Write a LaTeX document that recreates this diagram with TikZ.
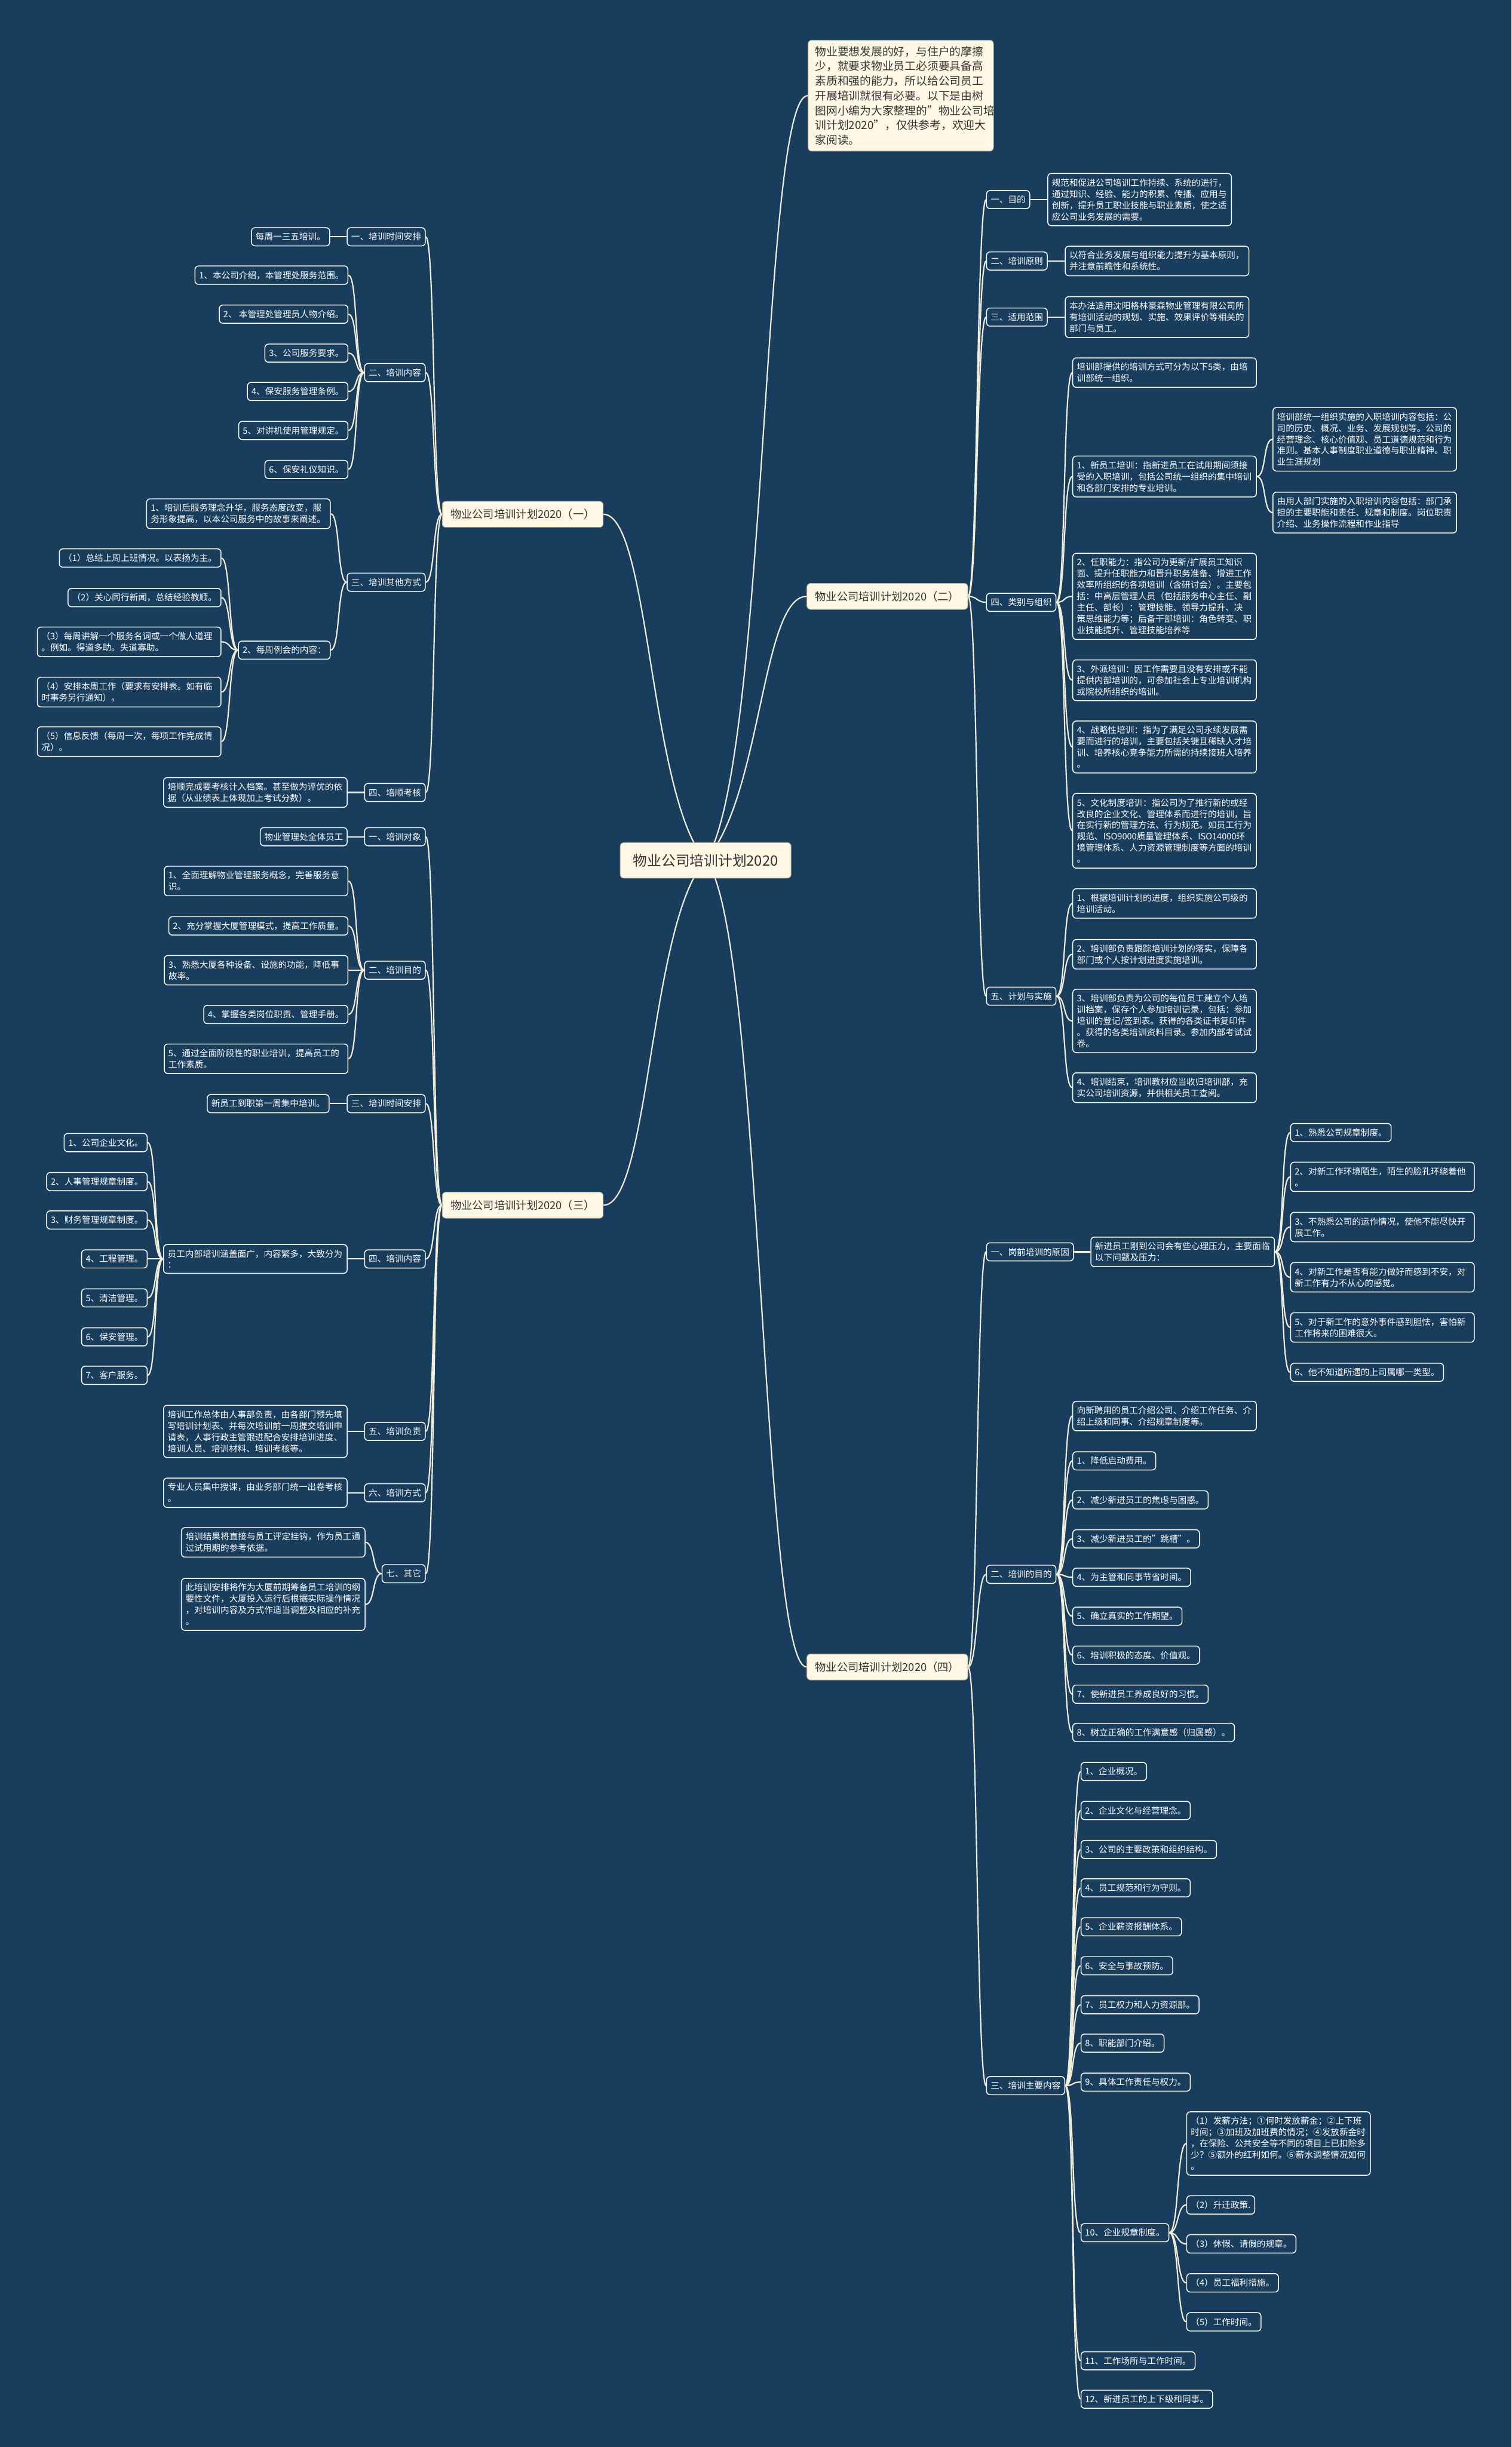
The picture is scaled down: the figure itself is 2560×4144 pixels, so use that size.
\documentclass[tikz,border=0pt]{standalone}
\usepackage{fontspec}
\setmainfont{Noto Sans CJK SC}
\usetikzlibrary{positioning,backgrounds}
\definecolor{bgblue}{HTML}{183D5D}
\definecolor{cream}{HTML}{FDF7E3}
\definecolor{inkgray}{HTML}{333333}
\definecolor{linkc}{HTML}{F2EEDC}
\tikzset{
    topic/.style={draw=white, line width=1.5pt, rounded corners=6pt, fill=bgblue, text=white,
        font=\fontsize{14.8}{19.2}\selectfont, inner xsep=7pt, inner ysep=8.5pt, align=left},
    note/.style={topic, text width=297pt},
    mainbox/.style={draw=cream!70!black, line width=1pt, rounded corners=6pt, fill=cream, text=inkgray,
        font=\fontsize{18.5}{23}\selectfont, inner xsep=14pt, minimum height=44pt},
    rootbox/.style={mainbox, font=\fontsize{24}{30}\selectfont, inner xsep=22pt, minimum height=60pt},
    introbox/.style={mainbox, font=\fontsize{19}{25}\selectfont, text width=290pt, align=left,
        inner xsep=12pt, inner ysep=10pt},
    link/.style={draw=linkc, line width=2.2pt}
}

\begin{document}
\begin{tikzpicture}[x=1pt, y=-1pt]
    \useasboundingbox (0,0) rectangle (2560,4144);

    % centre and intro
    \node[rootbox] (root) at (1195,1457) {物业公司培训计划2020};
    \node[introbox, anchor=west] (intro) at (1368,162) {物业要想发展的好，与住户的摩擦\\少，就要求物业员工必须要具备高\\素质和强的能力，所以给公司员工\\开展培训就很有必要。以下是由树\\图网小编为大家整理的"物业公司培\\训计划2020"，仅供参考，欢迎大\\家阅读。};

    % main branches
    \node[mainbox, anchor=east] (p1) at (1022,871) {物业公司培训计划2020（一）};
    \node[mainbox, anchor=west] (p2) at (1366,1010) {物业公司培训计划2020（二）};
    \node[mainbox, anchor=east] (p3) at (1022,2041) {物业公司培训计划2020（三）};
    \node[mainbox, anchor=west] (p4) at (1366,2823) {物业公司培训计划2020（四）};

    % plan (二)
    \node[topic, anchor=west] (p2a) at (1670,338) {一、目的};
    \node[note, right=29pt of p2a] (p2a1) {规范和促进公司培训工作持续、系统的进行，\\通过知识、经验、能力的积累、传播、应用与\\创新，提升员工职业技能与职业素质，使之适\\应公司业务发展的需要。};
    \node[topic, anchor=west] (p2b) at (1670,442) {二、培训原则};
    \node[note, right=29pt of p2b] (p2b1) {以符合业务发展与组织能力提升为基本原则，\\并注意前瞻性和系统性。};
    \node[topic, anchor=west] (p2c) at (1670,537) {三、适用范围};
    \node[note, right=29pt of p2c] (p2c1) {本办法适用沈阳格林豪森物业管理有限公司所\\有培训活动的规划、实施、效果评价等相关的\\部门与员工。};
    \node[topic, anchor=west] (p2d) at (1670,1020) {四、类别与组织};
    \node[note, anchor=west] (p2d1) at (1816,631) {培训部提供的培训方式可分为以下5类，由培\\训部统一组织。};
    \node[note, anchor=west] (p2d2) at (1816,807) {1、新员工培训：指新进员工在试用期间须接\\受的入职培训，包括公司统一组织的集中培训\\和各部门安排的专业培训。};
    \node[note, anchor=west] (p2d2a) at (2155,744) {培训部统一组织实施的入职培训内容包括：公\\司的历史、概况、业务、发展规划等。公司的\\经营理念、核心价值观、员工道德规范和行为\\准则。基本人事制度职业道德与职业精神。职\\业生涯规划};
    \node[note, anchor=west] (p2d2b) at (2155,868) {由用人部门实施的入职培训内容包括：部门承\\担的主要职能和责任、规章和制度。岗位职责\\介绍、业务操作流程和作业指导};
    \node[note, anchor=west] (p2d3) at (1816,1010) {2、任职能力：指公司为更新/扩展员工知识\\面、提升任职能力和晋升职务准备、增进工作\\效率所组织的各项培训（含研讨会）。主要包\\括：中高层管理人员（包括服务中心主任、副\\主任、部长）：管理技能、领导力提升、决\\策思维能力等；后备干部培训：角色转变、职\\业技能提升、管理技能培养等};
    \node[note, anchor=west] (p2d4) at (1816,1152) {3、外派培训：因工作需要且没有安排或不能\\提供内部培训的，可参加社会上专业培训机构\\或院校所组织的培训。};
    \node[note, anchor=west] (p2d5) at (1816,1265) {4、战略性培训：指为了满足公司永续发展需\\要而进行的培训，主要包括关键且稀缺人才培\\训、培养核心竞争能力所需的持续接班人培养\\。};
    \node[note, anchor=west] (p2d6) at (1816,1407) {5、文化制度培训：指公司为了推行新的或经\\改良的企业文化、管理体系而进行的培训，旨\\在实行新的管理方法、行为规范。如员工行为\\规范、ISO9000质量管理体系、ISO14000环\\境管理体系、人力资源管理制度等方面的培训\\。};
    \node[topic, anchor=west] (p2e) at (1670,1687) {五、计划与实施};
    \node[note, anchor=west] (p2e1) at (1816,1530) {1、根据培训计划的进度，组织实施公司级的\\培训活动。};
    \node[note, anchor=west] (p2e2) at (1816,1616) {2、培训部负责跟踪培训计划的落实，保障各\\部门或个人按计划进度实施培训。};
    \node[note, anchor=west] (p2e3) at (1816,1729) {3、培训部负责为公司的每位员工建立个人培\\训档案，保存个人参加培训记录，包括：参加\\培训的登记/签到表。获得的各类证书复印件\\。获得的各类培训资料目录。参加内部考试试\\卷。};
    \node[note, anchor=west] (p2e4) at (1816,1842) {4、培训结束，培训教材应当收归培训部，充\\实公司培训资源，并供相关员工查阅。};

    % plan (四)
    \node[topic, anchor=west] (p4a) at (1670,2120) {一、岗前培训的原因};
    \node[note, right=28pt of p4a] (p4a0) {新进员工刚到公司会有些心理压力，主要面临\\以下问题及压力：};
    \node[topic, anchor=west] (p4a1) at (2185,1918) {1、熟悉公司规章制度。};
    \node[note, anchor=west] (p4a2) at (2185,1993) {2、对新工作环境陌生，陌生的脸孔环绕着他\\。};
    \node[note, anchor=west] (p4a3) at (2185,2078) {3、不熟悉公司的运作情况，使他不能尽快开\\展工作。};
    \node[note, anchor=west] (p4a4) at (2185,2163) {4、对新工作是否有能力做好而感到不安，对\\新工作有力不从心的感觉。};
    \node[note, anchor=west] (p4a5) at (2185,2248) {5、对于新工作的意外事件感到胆怯，害怕新\\工作将来的困难很大。};
    \node[topic, anchor=west] (p4a6) at (2185,2324) {6、他不知道所遇的上司属哪一类型。};
    \node[topic, anchor=west] (p4b) at (1670,2666) {二、培训的目的};
    \node[note, anchor=west] (p4b0) at (1816,2398) {向新聘用的员工介绍公司、介绍工作任务、介\\绍上级和同事、介绍规章制度等。};
    \node[topic, anchor=west] (p4b1) at (1816,2474) {1、降低启动费用。};
    \node[topic, anchor=west] (p4b2) at (1816,2540) {2、减少新进员工的焦虑与困惑。};
    \node[topic, anchor=west] (p4b3) at (1816,2606) {3、减少新进员工的"跳槽"。};
    \node[topic, anchor=west] (p4b4) at (1816,2671) {4、为主管和同事节省时间。};
    \node[topic, anchor=west] (p4b5) at (1816,2737) {5、确立真实的工作期望。};
    \node[topic, anchor=west] (p4b6) at (1816,2803) {6、培训积极的态度、价值观。};
    \node[topic, anchor=west] (p4b7) at (1816,2869) {7、使新进员工养成良好的习惯。};
    \node[topic, anchor=west] (p4b8) at (1816,2934) {8、树立正确的工作满意感（归属感）。};
    \node[topic, anchor=west] (p4c) at (1670,3532) {三、培训主要内容};
    \node[topic, anchor=west] (p4c1) at (1830,3000) {1、企业概况。};
    \node[topic, anchor=west] (p4c2) at (1830,3066) {2、企业文化与经营理念。};
    \node[topic, anchor=west] (p4c3) at (1830,3132) {3、公司的主要政策和组织结构。};
    \node[topic, anchor=west] (p4c4) at (1830,3197) {4、员工规范和行为守则。};
    \node[topic, anchor=west] (p4c5) at (1830,3263) {5、企业薪资报酬体系。};
    \node[topic, anchor=west] (p4c6) at (1830,3329) {6、安全与事故预防。};
    \node[topic, anchor=west] (p4c7) at (1830,3395) {7、员工权力和人力资源部。};
    \node[topic, anchor=west] (p4c8) at (1830,3460) {8、职能部门介绍。};
    \node[topic, anchor=west] (p4c9) at (1830,3526) {9、具体工作责任与权力。};
    \node[topic, anchor=west] (p4c10) at (1830,3781) {10、企业规章制度。};
    \node[topic, anchor=west] (p4c11) at (1830,3998) {11、工作场所与工作时间。};
    \node[topic, anchor=west] (p4c12) at (1830,4063) {12、新进员工的上下级和同事。};
    \node[note, anchor=west] (q1) at (2009,3630) {（1）发薪方法；①何时发放薪金；②上下班\\时间；③加班及加班费的情况；④发放薪金时\\，在保险、公共安全等不同的项目上已扣除多\\少？⑤额外的红利如何。⑥薪水调整情况如何\\。};
    \node[topic, anchor=west] (q2) at (2009,3734) {（2）升迁政策.};
    \node[topic, anchor=west] (q3) at (2009,3800) {（3）休假、请假的规章。};
    \node[topic, anchor=west] (q4) at (2009,3866) {（4）员工福利措施。};
    \node[topic, anchor=west] (q5) at (2009,3932) {（5）工作时间。};

    % plan (一)
    \node[topic, anchor=east] (p1a) at (721,401) {一、培训时间安排};
    \node[topic, left=28pt of p1a] (p1a1) {每周一三五培训。};
    \node[topic, anchor=east] (p1b) at (721,631) {二、培训内容};
    \node[topic, anchor=east] (p1b1) at (590,466) {1、本公司介绍，本管理处服务范围。};
    \node[topic, anchor=east] (p1b2) at (590,532) {2、 本管理处管理员人物介绍。};
    \node[topic, anchor=east] (p1b3) at (590,598) {3、公司服务要求。};
    \node[topic, anchor=east] (p1b4) at (590,663) {4、保安服务管理条例。};
    \node[topic, anchor=east] (p1b5) at (590,729) {5、对讲机使用管理规定。};
    \node[topic, anchor=east] (p1b6) at (590,795) {6、保安礼仪知识。};
    \node[topic, anchor=east] (p1c) at (721,986) {三、培训其他方式};
    \node[note, anchor=east] (p1c1) at (560,870) {1、培训后服务理念升华，服务态度改变，服\\务形象提高，以本公司服务中的故事来阐述。};
    \node[topic, anchor=east] (p1c2) at (560,1101) {2、每周例会的内容：};
    \node[topic, anchor=east] (p1c2a) at (375,945) {（1）总结上周上班情况。以表扬为主。};
    \node[topic, anchor=east] (p1c2b) at (375,1012) {（2）关心同行新闻，总结经验教顺。};
    \node[note, anchor=east] (p1c2c) at (375,1087) {（3）每周讲解一个服务名词或一个做人道理\\。例如。得道多助。失道寡助。};
    \node[note, anchor=east] (p1c2d) at (375,1172) {（4）安排本周工作（要求有安排表。如有临\\时事务另行通知）。};
    \node[note, anchor=east] (p1c2e) at (375,1256) {（5）信息反馈（每周一次，每项工作完成情\\况）。};
    \node[topic, anchor=east] (p1d) at (721,1342) {四、培顺考核};
    \node[note, left=28pt of p1d] (p1d1) {培顺完成要考核计入档案。甚至做为评优的依\\据（从业绩表上体现加上考试分数）。};

    % plan (三)
    \node[topic, anchor=east] (p3a) at (721,1417) {一、培训对象};
    \node[topic, left=28pt of p3a] (p3a1) {物业管理处全体员工};
    \node[topic, anchor=east] (p3b) at (721,1643) {二、培训目的};
    \node[note, anchor=east] (p3b1) at (590,1492) {1、全面理解物业管理服务概念，完善服务意\\识。};
    \node[topic, anchor=east] (p3b2) at (590,1568) {2、充分掌握大厦管理模式，提高工作质量。};
    \node[note, anchor=east] (p3b3) at (590,1643) {3、熟悉大厦各种设备、设施的功能，降低事\\故率。};
    \node[topic, anchor=east] (p3b4) at (590,1718) {4、掌握各类岗位职责、管理手册。};
    \node[note, anchor=east] (p3b5) at (590,1793) {5、通过全面阶段性的职业培训，提高员工的\\工作素质。};
    \node[topic, anchor=east] (p3c) at (721,1869) {三、培训时间安排};
    \node[topic, left=29pt of p3c] (p3c1) {新员工到职第一周集中培训。};
    \node[topic, anchor=east] (p3d) at (721,2132) {四、培训内容};
    \node[note, left=28pt of p3d] (p3d0) {员工内部培训涵盖面广，内容繁多，大致分为\\：};
    \node[topic, anchor=east] (p3d1) at (250,1935) {1、公司企业文化。};
    \node[topic, anchor=east] (p3d2) at (250,2001) {2、人事管理规章制度。};
    \node[topic, anchor=east] (p3d3) at (250,2066) {3、财务管理规章制度。};
    \node[topic, anchor=east] (p3d4) at (250,2132) {4、工程管理。};
    \node[topic, anchor=east] (p3d5) at (250,2198) {5、清洁管理。};
    \node[topic, anchor=east] (p3d6) at (250,2264) {6、保安管理。};
    \node[topic, anchor=east] (p3d7) at (250,2329) {7、客户服务。};
    \node[topic, anchor=east] (p3e) at (721,2424) {五、培训负责};
    \node[note, left=28pt of p3e] (p3e1) {培训工作总体由人事部负责，由各部门预先填\\写培训计划表、并每次培训前一周提交培训申\\请表，人事行政主管跟进配合安排培训进度、\\培训人员、培训材料、培训考核等。};
    \node[topic, anchor=east] (p3f) at (721,2528) {六、培训方式};
    \node[note, left=28pt of p3f] (p3f1) {专业人员集中授课，由业务部门统一出卷考核\\。};
    \node[topic, anchor=east] (p3g) at (721,2665) {七、其它};
    \node[note, anchor=east] (p3g1) at (619,2612) {培训结果将直接与员工评定挂钩，作为员工通\\过试用期的参考依据。};
    \node[note, anchor=east] (p3g2) at (619,2717) {此培训安排将作为大厦前期筹备员工培训的纲\\要性文件，大厦投入运行后根据实际操作情况\\，对培训内容及方式作适当调整及相应的补充\\。};

    \begin{scope}[on background layer]
        \fill[bgblue] (0,0) rectangle (2560,4144);
        % from the centre
        \draw[link] (root.center) .. controls (1300,1300) and (1290,162) .. (intro.west);
        \draw[link] (root.center) .. controls (1290,1350) and (1290,1010) .. (p2.west);
        \draw[link] (root.center) .. controls (1290,1560) and (1290,2823) .. (p4.west);
        \draw[link] (root.center) .. controls (1100,1350) and (1100,871) .. (p1.east);
        \draw[link] (root.center) .. controls (1100,1560) and (1100,2041) .. (p3.east);
        % right hand side
        \foreach \a/\b in {p2/p2a, p2/p2b, p2/p2c, p2/p2d, p2/p2e, p2a/p2a1, p2b/p2b1, p2c/p2c1,
                p2d/p2d1, p2d/p2d2, p2d/p2d3, p2d/p2d4, p2d/p2d5, p2d/p2d6, p2d2/p2d2a, p2d2/p2d2b,
                p2e/p2e1, p2e/p2e2, p2e/p2e3, p2e/p2e4,
                p4/p4a, p4/p4b, p4/p4c, p4a/p4a0, p4a0/p4a1, p4a0/p4a2, p4a0/p4a3, p4a0/p4a4, p4a0/p4a5, p4a0/p4a6,
                p4b/p4b0, p4b/p4b1, p4b/p4b2, p4b/p4b3, p4b/p4b4, p4b/p4b5, p4b/p4b6, p4b/p4b7, p4b/p4b8,
                p4c/p4c1, p4c/p4c2, p4c/p4c3, p4c/p4c4, p4c/p4c5, p4c/p4c6, p4c/p4c7, p4c/p4c8, p4c/p4c9,
                p4c/p4c10, p4c/p4c11, p4c/p4c12, p4c10/q1, p4c10/q2, p4c10/q3, p4c10/q4, p4c10/q5}
            \draw[link] (\a.east) .. controls +(16,0) and +(-16,0) .. (\b.west);
        % left hand side
        \foreach \a/\b in {p1/p1a, p1/p1b, p1/p1c, p1/p1d, p1a/p1a1,
                p1b/p1b1, p1b/p1b2, p1b/p1b3, p1b/p1b4, p1b/p1b5, p1b/p1b6,
                p1c/p1c1, p1c/p1c2, p1c2/p1c2a, p1c2/p1c2b, p1c2/p1c2c, p1c2/p1c2d, p1c2/p1c2e, p1d/p1d1,
                p3/p3a, p3/p3b, p3/p3c, p3/p3d, p3/p3e, p3/p3f, p3/p3g, p3a/p3a1,
                p3b/p3b1, p3b/p3b2, p3b/p3b3, p3b/p3b4, p3b/p3b5, p3c/p3c1, p3d/p3d0,
                p3d0/p3d1, p3d0/p3d2, p3d0/p3d3, p3d0/p3d4, p3d0/p3d5, p3d0/p3d6, p3d0/p3d7,
                p3e/p3e1, p3f/p3f1, p3g/p3g1, p3g/p3g2}
            \draw[link] (\a.west) .. controls +(-16,0) and +(16,0) .. (\b.east);
    \end{scope}
\end{tikzpicture}
\end{document}
